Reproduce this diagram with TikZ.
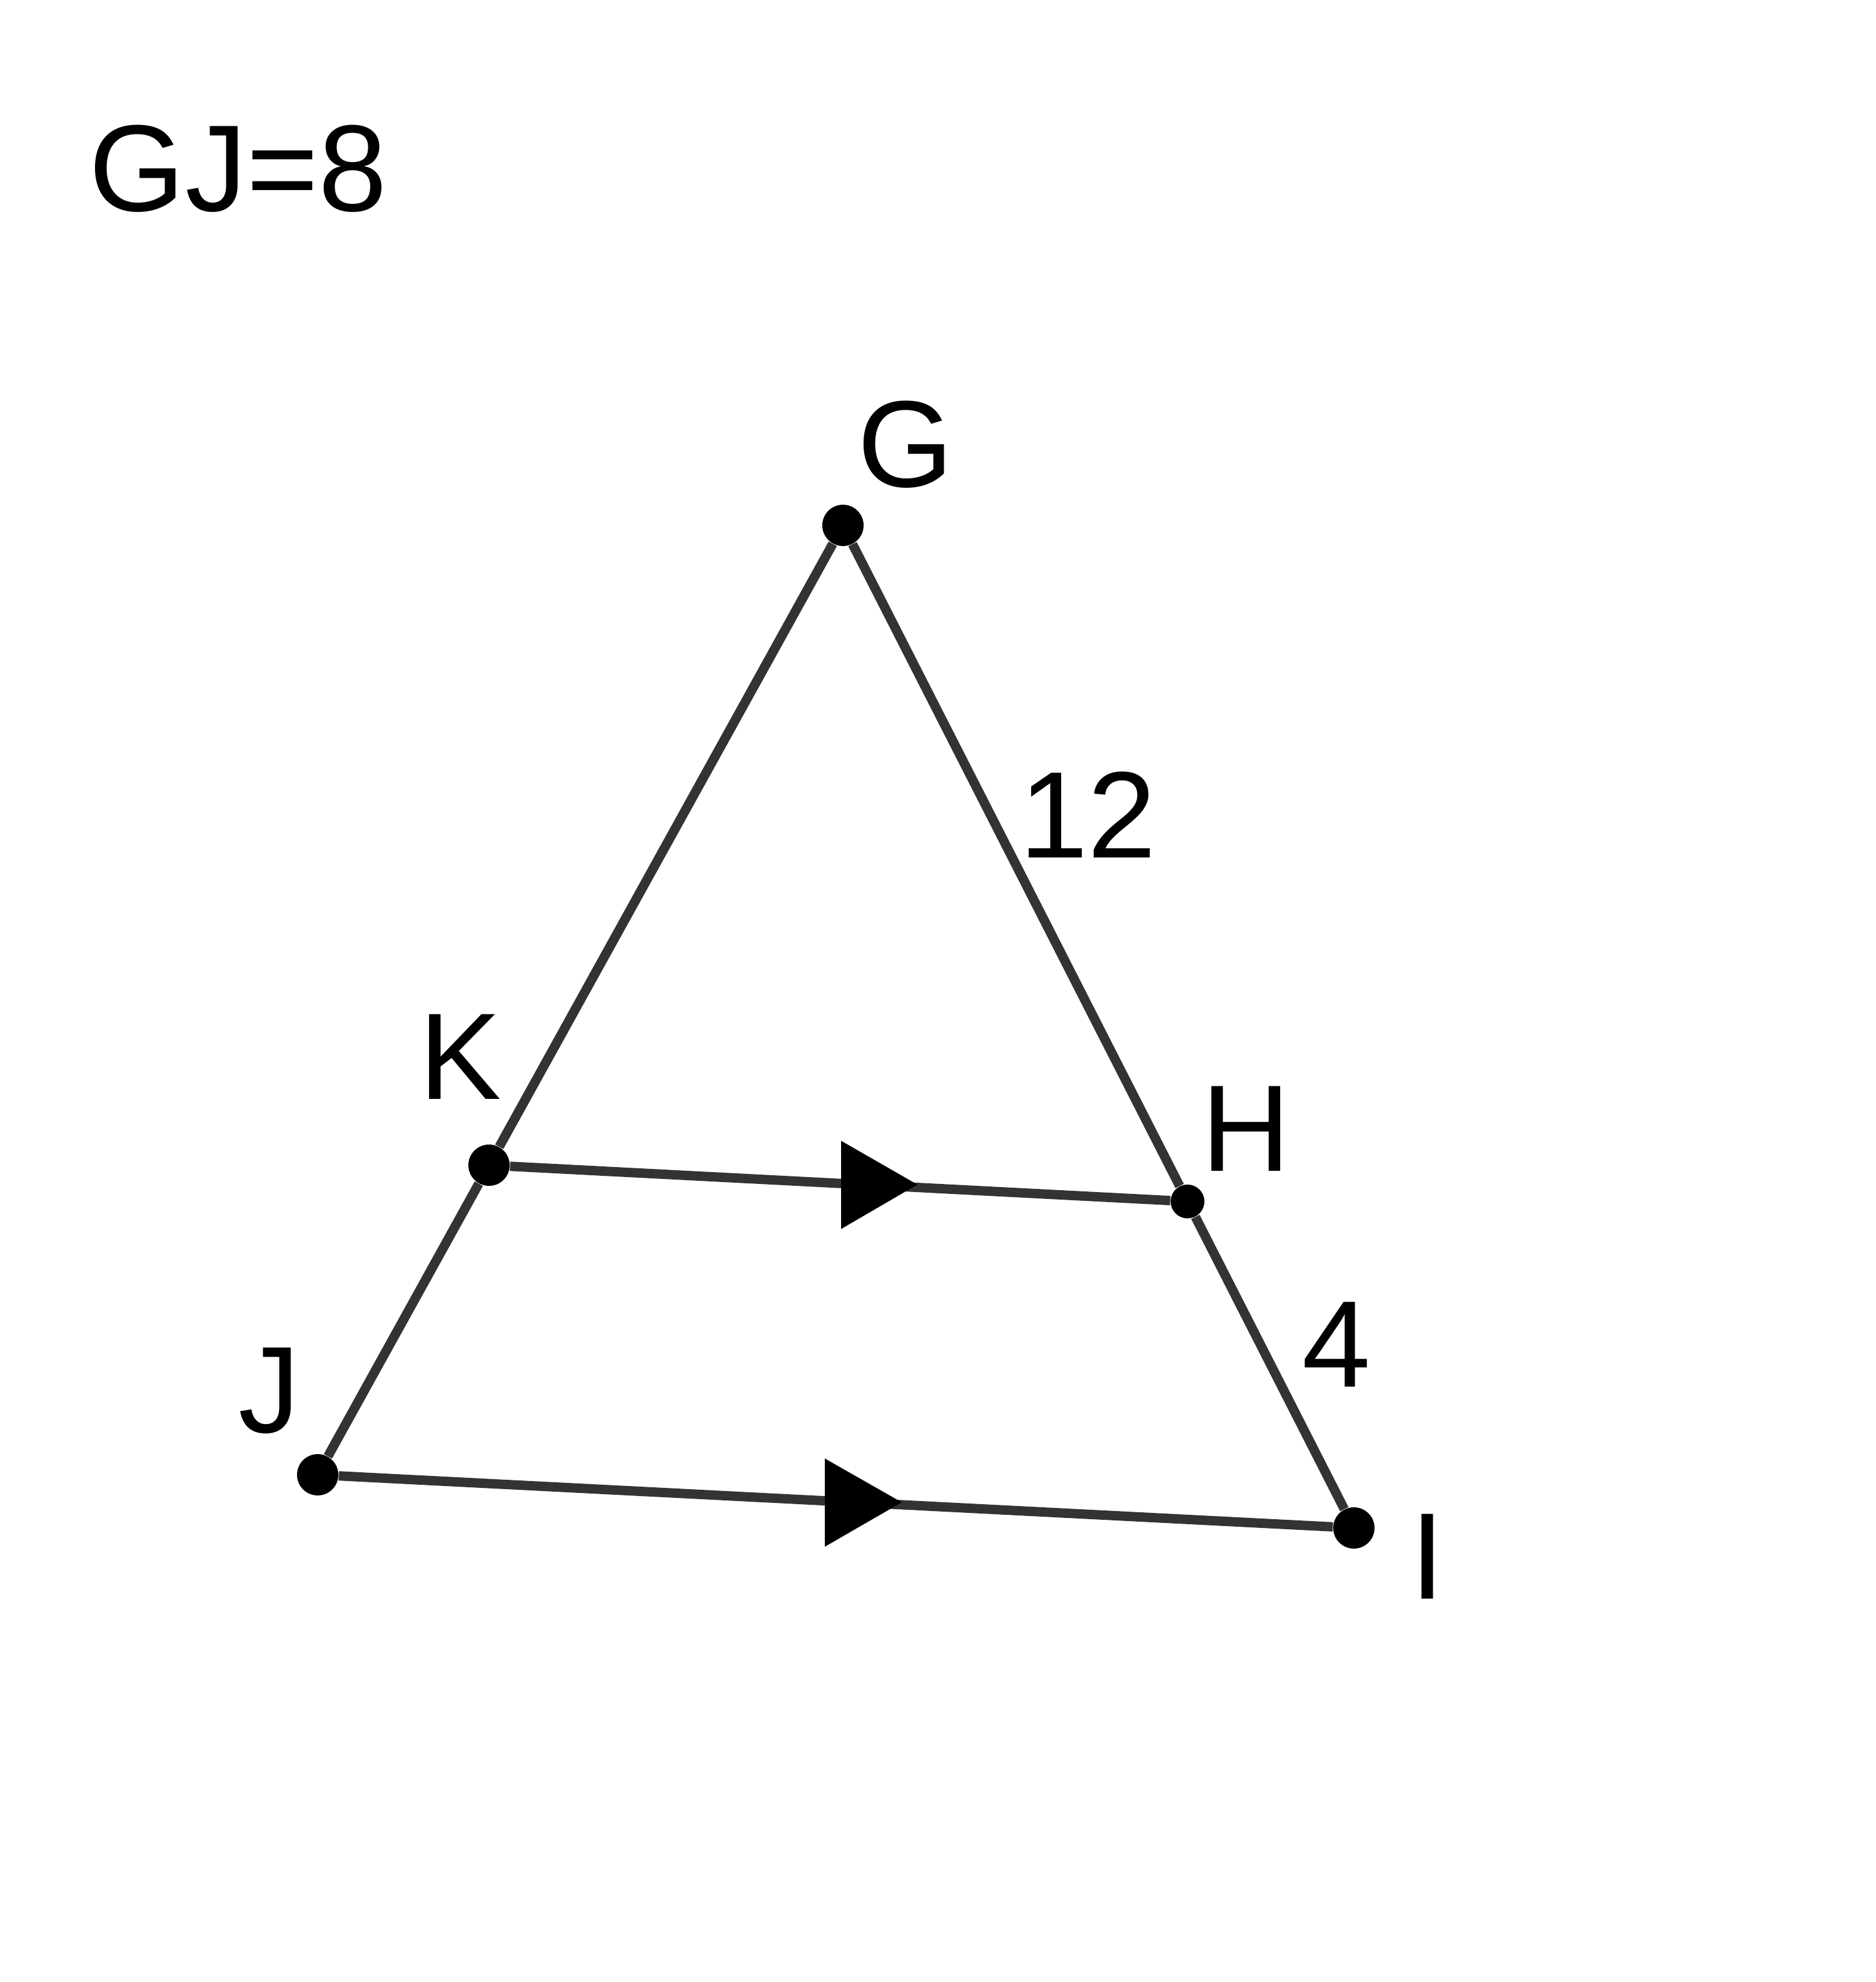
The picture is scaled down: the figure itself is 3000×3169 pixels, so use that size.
\documentclass[tikz,border=0pt]{standalone}
\usepackage{fontspec}
\setmainfont{Liberation Sans}
\definecolor{segcol}{HTML}{333333}
\begin{document}
\begin{tikzpicture}[x=0.01cm,y=-0.01cm,
  dot/.style={circle,fill=black,inner sep=0pt,minimum size=0.66cm},
  smalldot/.style={circle,fill=black,inner sep=0pt,minimum size=0.54cm},
  seg/.style={draw=segcol,line width=0.15cm},
  lbl/.style={inner sep=0pt,font=\fontsize{56}{60}\selectfont},
  tri/.style={fill=black}]
\useasboundingbox (0,0) rectangle (3000,3169);
% points
\node[dot] (G) at (1348,840) {};
\node[dot] (K) at (782,1863) {};
\node[smalldot] (H) at (1899,1921) {};
\node[dot] (J) at (508,2358) {};
\node[dot] (I) at (2165,2443) {};
% segments
\draw[seg] (G) -- (K);
\draw[seg] (K) -- (J);
\draw[seg] (G) -- (H);
\draw[seg] (H) -- (I);
\draw[seg] (K) -- (H);
\draw[seg] (J) -- (I);
% parallel marks
\fill[tri] (1345,1824) -- (1467,1894) -- (1345,1965) -- cycle;
\fill[tri] (1319,2332) -- (1442,2402) -- (1319,2473) -- cycle;
% labels
\node[lbl] (tG) at (1448,711) {G};
\node[lbl] (tK) at (736,1690) {K};
\node[lbl] (tH) at (1993,1805) {H};
\node[lbl] (tJ) at (431,2224) {J};
\node[lbl] (tI) at (2283,2489) {I};
\node[lbl] (t12) at (1740,1303) {12};
\node[lbl] (t4) at (2137,2150) {4};
\node[lbl] (tGJ) at (381,270) {GJ=8};
\end{tikzpicture}
\end{document}
